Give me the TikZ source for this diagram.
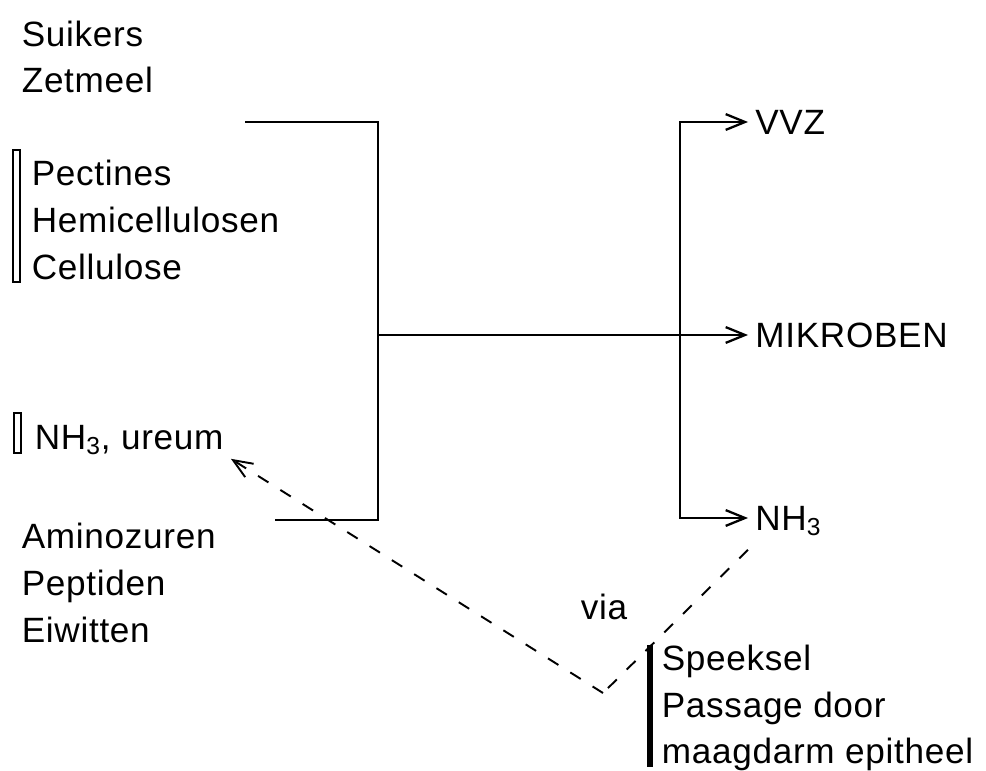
\documentclass[tikz,border=0pt]{standalone}
\usepackage{fontspec}
\setmainfont{Liberation Sans}[LetterSpace=2]
\usetikzlibrary{arrows.meta}

\begin{document}
\begin{tikzpicture}[
  x=0.02cm, y=-0.02cm,
  every node/.style={font=\fontsize{20}{26.6}\selectfont, inner sep=2pt},
  groep/.style={anchor=west, align=left},
  doel/.style={anchor=west, inner xsep=4pt, text depth=0pt},
  lijn/.style={draw, line width=1.3pt},
  pijl/.style={lijn, -{Straight Barb[length=11pt, width=9pt]}},
  streep/.style={draw, line width=1.1pt, dash pattern=on 7pt off 8pt},
  balk/.style={draw, line width=1.2pt},
  volbalk/.style={fill=black}
]
\useasboundingbox (0,0) rectangle (986,770);

% Voer (links)
\node[groep] (koolh) at (18,57) {Suikers\\Zetmeel};
\node[groep] (vezel) at (28,220) {Pectines\\Hemicellulosen\\Cellulose};
\node[groep] (ureum) at (31,440) {NH\textsubscript{3}, ureum};
\node[groep] (eiwit) at (18,583) {Aminozuren\\Peptiden\\Eiwitten};

% Producten (rechts)
\node[doel] (vvz) at (748,122) {VVZ};
\node[doel] (mikroben) at (748,335) {MIKROBEN};
\node[doel] (nh3) at (748,518) {NH\textsubscript{3}};

% Terugvoer
\node (via) at (604,607) {via};
\node[groep] (speeksel) at (658,708) {Speeksel\\Passage door\\maagdarm epitheel};

% Balken
\draw[balk] (13,150) rectangle (20,282);
\draw[balk] (14,413) rectangle (21,453);
\fill[volbalk] (647,645) rectangle (653,767);

% Verbindingen
\coordinate (in1) at (245,122);
\coordinate (in2) at (275,520);
\coordinate (knoop) at (378,335);
\coordinate (split) at (680,335);
\coordinate (dal) at (603,693);

\draw[lijn] (in1) -| (knoop);
\draw[lijn] (in2) -| (knoop);
\draw[pijl] (knoop) -- (mikroben.west);
\draw[pijl] (split) |- (vvz.west);
\draw[pijl] (split) |- (nh3.west);

\draw[streep] ([yshift=-9pt]nh3.south west) -- (dal);
\draw[streep, -{Straight Barb[length=11pt, width=9pt]}] (dal) -- ([xshift=2pt]ureum.south east);

\end{tikzpicture}
\end{document}
